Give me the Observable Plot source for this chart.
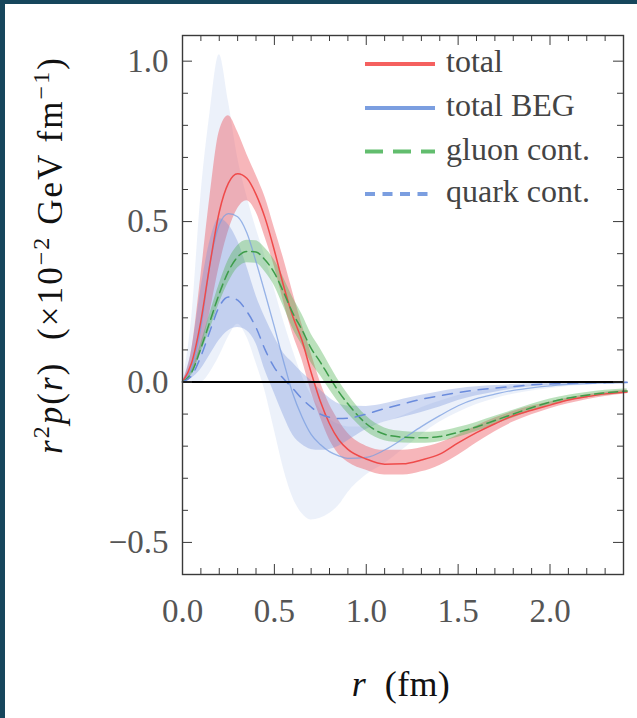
<!DOCTYPE html>
<html><head><meta charset="utf-8">
<script src="https://cdn.jsdelivr.net/npm/d3@7"></script>
<script src="https://cdn.jsdelivr.net/npm/@observablehq/plot@0.6"></script>
<style>
html,body{margin:0;padding:0;background:#fff;}
#wrap{position:relative;width:637px;height:718px;overflow:hidden;background:#fff;}
#chart{position:absolute;left:0;top:0;}
#legend{position:absolute;left:0;top:0;}
#bt{position:absolute;left:0;top:0;width:637px;height:4px;background:#16465c;}
#bl{position:absolute;left:0;top:0;width:5px;height:718px;background:#16465c;}
</style></head><body>
<div id="wrap"><div id="chart"></div><svg id="legend" width="637" height="718"></svg><div id="bt"></div><div id="bl"></div></div>
<script>
// r grid (fm)
const r = [0, 0.05, 0.1, 0.15, 0.2, 0.25, 0.3, 0.35, 0.4, 0.45, 0.5, 0.55, 0.6, 0.65, 0.7, 0.75, 0.8, 0.85, 0.9, 1.0, 1.1, 1.2, 1.3, 1.4, 1.5, 1.6, 1.7, 1.8, 1.9, 2.0, 2.1, 2.2, 2.3, 2.42];

// total
const totalMid = [0, 0.06, 0.19, 0.37, 0.53, 0.62, 0.649, 0.635, 0.585, 0.51, 0.41, 0.30, 0.205, 0.13, 0.03, -0.06, -0.13, -0.18, -0.21, -0.24, -0.256, -0.255, -0.243, -0.225, -0.19, -0.158, -0.13, -0.105, -0.088, -0.072, -0.056, -0.046, -0.037, -0.031];
const totalHi  = [0, 0.1, 0.33, 0.58, 0.78, 0.83, 0.78, 0.71, 0.645, 0.575, 0.48, 0.385, 0.28, 0.18, 0.09, 0.0, -0.07, -0.12, -0.16, -0.2, -0.213, -0.213, -0.205, -0.19, -0.165, -0.137, -0.112, -0.092, -0.075, -0.062, -0.05, -0.04, -0.032, -0.025];
const totalLo  = [0, 0.03, 0.1, 0.22, 0.36, 0.47, 0.54, 0.565, 0.53, 0.45, 0.36, 0.25, 0.15, 0.07, -0.03, -0.11, -0.18, -0.225, -0.25, -0.275, -0.29, -0.29, -0.28, -0.26, -0.228, -0.19, -0.155, -0.125, -0.102, -0.083, -0.068, -0.055, -0.045, -0.037];

// total BEG
const begMid = [0, 0.045, 0.17, 0.37, 0.49, 0.525, 0.515, 0.465, 0.375, 0.275, 0.172, 0.064, -0.036, -0.108, -0.163, -0.195, -0.217, -0.23, -0.238, -0.235, -0.212, -0.177, -0.139, -0.105, -0.074, -0.052, -0.038, -0.026, -0.018, -0.012, -0.007, -0.005, -0.003, -0.002];
const begHi  = [0, 0.2, 0.58, 0.84, 1.02, 0.875, 0.7, 0.58, 0.48, 0.39, 0.29, 0.19, 0.1, 0.02, -0.04, -0.085, -0.115, -0.132, -0.14, -0.14, -0.125, -0.105, -0.08, -0.06, -0.042, -0.03, -0.02, -0.014, -0.009, -0.006, -0.004, -0.002, -0.001, -0.001];
const begLo  = [0, 0.0, 0.0, 0.03, 0.08, 0.14, 0.18, 0.14, 0.06, -0.03, -0.15, -0.27, -0.36, -0.41, -0.43, -0.425, -0.41, -0.385, -0.345, -0.29, -0.254, -0.21, -0.165, -0.125, -0.095, -0.07, -0.052, -0.038, -0.028, -0.02, -0.014, -0.01, -0.007, -0.005];

// gluon cont.
const gluonMid = [0, 0.03, 0.105, 0.19, 0.275, 0.345, 0.39, 0.407, 0.405, 0.38, 0.34, 0.28, 0.215, 0.163, 0.105, 0.062, 0.015, -0.03, -0.068, -0.13, -0.163, -0.172, -0.174, -0.17, -0.157, -0.14, -0.12, -0.1, -0.08, -0.063, -0.05, -0.041, -0.034, -0.028];
const gluonHi  = [0, 0.038, 0.12, 0.215, 0.305, 0.38, 0.425, 0.442, 0.44, 0.417, 0.38, 0.325, 0.263, 0.211, 0.15, 0.104, 0.053, 0.004, -0.038, -0.106, -0.143, -0.154, -0.157, -0.154, -0.142, -0.126, -0.107, -0.088, -0.069, -0.053, -0.041, -0.033, -0.026, -0.021];
const gluonLo  = [0, 0.022, 0.09, 0.165, 0.245, 0.31, 0.355, 0.372, 0.37, 0.343, 0.30, 0.235, 0.167, 0.115, 0.06, 0.02, -0.023, -0.064, -0.098, -0.154, -0.183, -0.19, -0.191, -0.186, -0.172, -0.154, -0.133, -0.112, -0.091, -0.073, -0.059, -0.049, -0.042, -0.035];

// quark cont.
const quarkMid = [0, 0.02, 0.08, 0.16, 0.235, 0.265, 0.255, 0.22, 0.17, 0.10, 0.045, 0.01, -0.02, -0.052, -0.078, -0.1, -0.11, -0.114, -0.113, -0.1, -0.083, -0.068, -0.054, -0.043, -0.033, -0.025, -0.019, -0.014, -0.009, -0.006, -0.004, -0.003, -0.002, -0.001];
const quarkHi  = [0, 0.1, 0.29, 0.44, 0.51, 0.49, 0.44, 0.36, 0.27, 0.2, 0.14, 0.09, 0.06, 0.03, 0.005, -0.025, -0.05, -0.068, -0.075, -0.076, -0.068, -0.054, -0.041, -0.03, -0.021, -0.015, -0.011, -0.008, -0.005, -0.003, -0.002, -0.001, -0.001, 0];
const quarkLo  = [0, 0.012, 0.04, 0.085, 0.13, 0.16, 0.17, 0.16, 0.12, 0.035, -0.035, -0.105, -0.165, -0.195, -0.21, -0.213, -0.21, -0.2, -0.183, -0.148, -0.125, -0.11, -0.095, -0.078, -0.058, -0.043, -0.032, -0.022, -0.015, -0.01, -0.007, -0.005, -0.003, -0.002];

// ticks
const xMajor = [0, 0.5, 1.0, 1.5, 2.0];
const xMinor = [0.1, 0.2, 0.3, 0.4, 0.6, 0.7, 0.8, 0.9, 1.1, 1.2, 1.3, 1.4, 1.6, 1.7, 1.8, 1.9, 2.1, 2.2, 2.3];
const yMajor = [-0.5, 0.0, 0.5, 1.0];
const yMinor = [-0.4, -0.3, -0.2, -0.1, 0.1, 0.2, 0.3, 0.4, 0.6, 0.7, 0.8, 0.9];

// legend
const legendNames = ["total", "total BEG", "gluon cont.", "quark cont."];
const legendColors = ["#f5605f", "#7b9ee0", "#62bd6e", "#7b9ee0"];
const legendDash = [null, null, "18,10", "10,7.5"];

const W = 637, H = 718, mL = 182, mR = 14, mT = 35, mB = 144;
const innerH = H - mT - mB, innerW = W - mL - mR;
const FONT = "'Liberation Serif', 'DejaVu Serif', serif";

const rows = r.map((x, i) => ({
  r: x,
  tm: totalMid[i], th: totalHi[i], tl: totalLo[i],
  bm: begMid[i], bh: begHi[i], bl: begLo[i],
  gm: gluonMid[i], gh: gluonHi[i], gl: gluonLo[i],
  qm: quarkMid[i], qh: quarkHi[i], ql: quarkLo[i]
}));
const curve = "monotone-x";
const tickColor = "#3a3a3a";

const plot = Plot.plot({
  width: W, height: H,
  marginLeft: mL, marginRight: mR, marginTop: mT, marginBottom: mB,
  style: {background: "transparent", fontFamily: FONT, color: "#555"},
  x: {domain: [0, 2.4]},
  y: {domain: [-0.6, 1.08]},
  marks: [
    Plot.areaY(rows, {x: "r", y1: "bl", y2: "bh", fill: "#6f8fdc", fillOpacity: 0.13, curve}),
    Plot.areaY(rows, {x: "r", y1: "tl", y2: "th", fill: "#eb505a", fillOpacity: 0.42, curve}),
    Plot.areaY(rows, {x: "r", y1: "ql", y2: "qh", fill: "#6f8fdc", fillOpacity: 0.33, curve}),
    Plot.areaY(rows, {x: "r", y1: "gl", y2: "gh", fill: "#4caf50", fillOpacity: 0.38, curve}),
    Plot.lineY(rows, {x: "r", y: "bm", stroke: "#7a9de0", strokeWidth: 1.3, strokeOpacity: 0.75, curve}),
    Plot.lineY(rows, {x: "r", y: "tm", stroke: "#ef4a4a", strokeWidth: 1.5, curve}),
    Plot.lineY(rows, {x: "r", y: "gm", stroke: "#3d9c4a", strokeWidth: 1.5, strokeDasharray: "9,5", curve}),
    Plot.lineY(rows, {x: "r", y: "qm", stroke: "#6a8bdc", strokeWidth: 1.5, strokeDasharray: "10,8", curve}),
    Plot.ruleY([0], {stroke: "#000", strokeWidth: 2}),
    Plot.frame({stroke: tickColor, strokeWidth: 1.4}),
    Plot.tickX(xMajor, {x: d => d, insetTop: innerH - 10, stroke: tickColor}),
    Plot.tickX(xMajor, {x: d => d, insetBottom: innerH - 10, stroke: tickColor}),
    Plot.tickX(xMinor, {x: d => d, insetTop: innerH - 6, stroke: tickColor}),
    Plot.tickX(xMinor, {x: d => d, insetBottom: innerH - 6, stroke: tickColor}),
    Plot.tickY(yMajor, {y: d => d, insetRight: innerW - 10, stroke: tickColor}),
    Plot.tickY(yMajor, {y: d => d, insetLeft: innerW - 10, stroke: tickColor}),
    Plot.tickY(yMinor, {y: d => d, insetRight: innerW - 6, stroke: tickColor}),
    Plot.tickY(yMinor, {y: d => d, insetLeft: innerW - 6, stroke: tickColor}),
    Plot.axisX(xMajor, {anchor: "bottom", tickSize: 0, tickPadding: 24, tickFormat: d3.format(".1f"), label: null, fontSize: 33, fill: "#555"}),
    Plot.axisY(yMajor, {anchor: "left", tickSize: 0, tickPadding: 14, tickFormat: d3.format(".1f"), label: null, fontSize: 33, fill: "#555"})
  ]
});
document.getElementById("chart").appendChild(plot);

const svg = d3.select(plot);
function part(sel, txt, opts = {}) {
  const t = sel.append("tspan").text(txt);
  if (opts.italic) t.attr("font-style", "italic");
  if (opts.sup) t.attr("font-size", 24).attr("dy", -13);
  if (opts.down) t.attr("dy", 13);
  return t;
}
function fitWidth(textSel, target) {
  const node = textSel.node();
  const len = node.getComputedTextLength();
  const n = node.textContent.length;
  if (n > 1 && len < target) textSel.attr("letter-spacing", ((target - len) / (n - 1)).toFixed(2));
}
// y axis title
const yt = svg.append("text")
  .attr("transform", "translate(62,255) rotate(-90)")
  .attr("text-anchor", "middle")
  .attr("font-family", FONT).attr("font-size", 35).attr("fill", "#111");
part(yt, "r", {italic: true});
part(yt, "2", {sup: true});
part(yt, "p", {italic: true, down: true});
part(yt, "(");
part(yt, "r", {italic: true});
part(yt, ")  (×10");
part(yt, "−2", {sup: true});
part(yt, " GeV fm", {down: true});
part(yt, "−1", {sup: true});
part(yt, ")", {down: true});
fitWidth(yt, 396);

// x axis title
const xt = svg.append("text")
  .attr("x", 401).attr("y", 696)
  .attr("text-anchor", "middle")
  .attr("font-family", FONT).attr("font-size", 36).attr("fill", "#111");
part(xt, "r", {italic: true});
part(xt, "  (fm)");
fitWidth(xt, 98);

// legend
const lg = d3.select("#legend");
const rowY = [64, 108, 151.5, 194];
legendNames.forEach((name, i) => {
  const ln = lg.append("line").attr("x1", 365).attr("x2", 435).attr("y1", rowY[i]).attr("y2", rowY[i])
    .attr("stroke", legendColors[i]).attr("stroke-width", 4);
  if (legendDash[i]) ln.attr("stroke-dasharray", legendDash[i]);
  lg.append("text").attr("x", 446).attr("y", rowY[i] + 8)
    .attr("font-family", FONT).attr("font-size", 32).attr("fill", "#444").text(name);
});
</script>
</body></html>
